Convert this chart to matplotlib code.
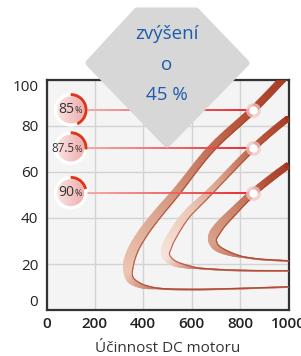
import numpy as np
import matplotlib
matplotlib.use('Agg')
import matplotlib.pyplot as plt
from matplotlib.collections import LineCollection, PolyCollection
from matplotlib.patches import Circle, Wedge, Polygon
import matplotlib.colors as mcolors

# ---------------- data ----------------
efficiency_labels = ['85', '87.5', '90']
label_x = 100
marker_x = 853
marker_y = [87.0, 70.4, 51.0]

curve85_x = [1010, 973, 853, 683, 534, 462, 400, 356, 338, 346, 390, 470, 600, 760, 1000]
curve85_y = [104, 100, 87.0, 70.4, 50.9, 42.0, 33.5, 25.5, 18.5, 13.5, 10.6, 9.3, 8.9, 9.2, 10.0]
curve875_x = [1000, 990, 853, 671, 580, 530, 500, 493, 520, 590, 700, 836, 1000]
curve875_y = [83.2, 82.6, 70.4, 50.9, 41.5, 34.0, 28.0, 24.0, 20.8, 18.7, 17.6, 17.1, 17.0]
curve90_x = [1000, 990, 853, 770, 712, 686, 700, 760, 860, 1000]
curve90_y = [62.8, 62.2, 51.0, 42.5, 36.0, 31.0, 27.5, 24.4, 22.3, 21.3]

x_ticks = [0, 200, 400, 600, 800, 1000]
y_ticks = [0, 20, 40, 60, 80, 100]
x_label = 'Účinnost DC motoru'
callout_lines = ['zvýšení', 'o', '45 %']

# ---------------- style ----------------
W, H = 301, 356
PT = 0.72  # points per pixel at dpi 100
plt.rcParams['font.family'] = ['Open Sans', 'DejaVu Sans']

fig = plt.figure(figsize=(W / 100, H / 100), dpi=100)
fig.patch.set_facecolor('white')
ax = fig.add_axes([46.5 / W, 46 / H, 242 / W, 230 / H])
ax.set_xlim(0, 1000)
ax.set_ylim(0, 100)
ax.set_facecolor('#f4f4f4')
ax.set_xticks(x_ticks)
ax.set_yticks(y_ticks)
ax.set_xticklabels([str(v) for v in x_ticks], fontsize=11, fontweight='semibold', color='#222222')
ax.set_yticklabels([str(v) for v in y_ticks], fontsize=11, color='#222222')
ax.tick_params(length=0)
ax.tick_params(axis='x', pad=5)
ax.tick_params(axis='y', pad=6)
ylabs = ax.get_yticklabels()
ylabs[0].set_va('bottom')
ylabs[-1].set_va('top')
ax.grid(True, color='#d3d3d3', lw=1.0)
ax.set_axisbelow(True)
for sp in ax.spines.values():
    sp.set_color('#333333')
    sp.set_linewidth(1.6)
ax.set_xlabel(x_label, fontsize=11, color='#333333', labelpad=7)


def smooth_px(xs, ys, n=30):
    P = ax.transData.transform(np.column_stack([xs, ys]))
    pts = np.vstack([2 * P[0] - P[1], P, 2 * P[-1] - P[-2]])
    out = []
    for i in range(1, len(pts) - 2):
        p0, p1, p2, p3 = pts[i - 1:i + 3]
        t0 = 0.0
        t1 = t0 + max(np.linalg.norm(p1 - p0), 1e-6) ** 0.5
        t2 = t1 + max(np.linalg.norm(p2 - p1), 1e-6) ** 0.5
        t3 = t2 + max(np.linalg.norm(p3 - p2), 1e-6) ** 0.5
        t = np.linspace(t1, t2, n, endpoint=False)[:, None]
        A1 = (t1 - t) / (t1 - t0) * p0 + (t - t0) / (t1 - t0) * p1
        A2 = (t2 - t) / (t2 - t1) * p1 + (t - t1) / (t2 - t1) * p2
        A3 = (t3 - t) / (t3 - t2) * p2 + (t - t2) / (t3 - t2) * p3
        B1 = (t2 - t) / (t2 - t0) * A1 + (t - t0) / (t2 - t0) * A2
        B2 = (t3 - t) / (t3 - t1) * A2 + (t - t1) / (t3 - t1) * A3
        C = (t2 - t) / (t2 - t1) * B1 + (t - t1) / (t2 - t1) * B2
        out.append(C)
    out.append(P[-1:])
    return np.vstack(out)


def hex2rgb(h):
    return np.array(mcolors.to_rgb(h))


def draw_band(xs, ys, w_up, w_nose, cols, thin_col, edge_col):
    P = smooth_px(xs, ys)
    d = np.diff(P, axis=0)
    seg_len = np.hypot(d[:, 0], d[:, 1])
    s = np.concatenate([[0], np.cumsum(seg_len)])
    nose = int(np.argmin(P[:, 0]))
    sn = s[nose]
    se = s[-1]
    w = np.interp(s, [0, sn * 0.55, sn - 6, sn + 8, sn + 38, se],
                  [w_up, w_up * 1.1, w_nose, w_nose * 0.7, 1.4, 1.4])
    f = s / sn
    stops_f = np.linspace(0, 1, len(cols))
    rgb = np.array([hex2rgb(c) for c in cols])
    C = np.column_stack([np.interp(np.minimum(f, 1), stops_f, rgb[:, k]) for k in range(3)])
    after = np.clip((s - sn - 5) / 35.0, 0, 1)[:, None]
    C = C * (1 - after) + hex2rgb(thin_col)[None, :] * after
    tang = np.gradient(P, axis=0)
    tn = tang / np.maximum(np.hypot(tang[:, 0], tang[:, 1]), 1e-6)[:, None]
    nrm = np.column_stack([-tn[:, 1], tn[:, 0]])
    inv = ax.transData.inverted()
    Ld = inv.transform(P + nrm * (w[:, None] / 2))
    Rd = inv.transform(P - nrm * (w[:, None] / 2))
    quads = [[Ld[i], Ld[i + 1], Rd[i + 1], Rd[i]] for i in range(len(P) - 1)]
    cc = 0.5 * (C[:-1] + C[1:])
    pc = PolyCollection(quads, facecolors=cc, edgecolors=cc, linewidths=0.3, zorder=3)
    ax.add_collection(pc)
    # inner dark edge
    E = inv.transform(P + nrm * np.maximum(w[:, None] / 2 - 0.5, 0))
    ax.plot(E[:, 0], E[:, 1], color=edge_col, lw=0.8, alpha=0.8, zorder=3.1,
            solid_capstyle='round')


draw_band(curve85_x, curve85_y, 7.0, 11,
          ['#a2331b', '#b34a30', '#c5785e', '#dba28a', '#ebc5b2'], '#c26652', '#a8402a')
draw_band(curve875_x, curve875_y, 6.0, 10,
          ['#a3341c', '#bd5c40', '#d8a089', '#ecc9b8', '#f6e3d9'], '#c26652', '#ad452e')
draw_band(curve90_x, curve90_y, 6.5, 10,
          ['#a3341c', '#b44a30', '#c46d52', '#cf8a72', '#d7a08a'], '#c26652', '#a8402a')

# horizontal connector lines with gradient
line_cmap = mcolors.LinearSegmentedColormap.from_list('ln', ['#f6b3b3', '#e8262a'])
for y in marker_y:
    xs = np.linspace(label_x, marker_x, 60)
    segs = np.stack([np.column_stack([xs[:-1], [y] * 59]), np.column_stack([xs[1:], [y] * 59])], axis=1)
    lc = LineCollection(segs, colors=line_cmap(np.linspace(0, 1, 59)), linewidths=1.4, zorder=4)
    ax.add_collection(lc)

ax.scatter([marker_x] * 3, marker_y, s=(15 * PT) ** 2, color='#f5c6c6', alpha=0.75, zorder=5, linewidths=0)
ax.scatter([marker_x] * 3, marker_y, s=(8.5 * PT) ** 2, color='white', zorder=6, linewidths=0)

# ---------------- overlay (pixel coordinates) ----------------
ov = fig.add_axes([0, 0, 1, 1], zorder=10)
ov.set_xlim(0, W)
ov.set_ylim(0, H)
ov.axis('off')

# callout shape
r = 3.5
diamond = Polygon([(137, 345), (196, 345), (246, 293), (167, 212), (89, 293)],
                  closed=True, facecolor='#d7d7d7', edgecolor='#d7d7d7',
                  lw=2 * r * PT, joinstyle='round', zorder=5)
ov.add_patch(diamond)
for txt, yy in zip(callout_lines, [322, 291, 261]):
    ov.text(167, yy, txt, ha='center', va='center', fontsize=13.5, color='#1d5bab', zorder=6)

# circle labels
arc_extent = [155, 95, 76]
grad = np.linspace(0, 1, 64)[None, :] * np.ones((64, 1))
disc_cmap = mcolors.LinearSegmentedColormap.from_list('dc', ['#fbe2e2', '#eeadad'])
for lab, y, ext in zip(efficiency_labels, marker_y, arc_extent):
    cx, cy = ov.transData.inverted().transform(ax.transData.transform((label_x, y)))
    ov.add_patch(Circle((cx, cy), 16.8, facecolor='white', edgecolor='none', zorder=7))
    ov.add_patch(Wedge((cx, cy), 16.8, 90 - ext, 90, width=3.0, facecolor='#df3618',
                       edgecolor='none', zorder=8))
    clip = Circle((cx, cy), 13.5, transform=ov.transData, facecolor='none', edgecolor='none')
    ov.add_patch(clip)
    im = ov.imshow(grad, extent=[cx - 14, cx + 14, cy - 14, cy + 14], cmap=disc_cmap,
                   origin='lower', aspect='auto', zorder=7.5, interpolation='bilinear')
    im.set_clip_path(clip)
    fs = 10 if lab != '87.5' else 8.3
    ov.text(cx + 3.5, cy, lab, ha='right', va='center', fontsize=fs, color='#333333', zorder=9)
    ov.text(cx + 3.8, cy - 1.0, '%', ha='left', va='center', fontsize=6.5, color='#333333', zorder=9)

ov.set_xlim(0, W)
ov.set_ylim(0, H)

fig.savefig('out.png', dpi=100)
